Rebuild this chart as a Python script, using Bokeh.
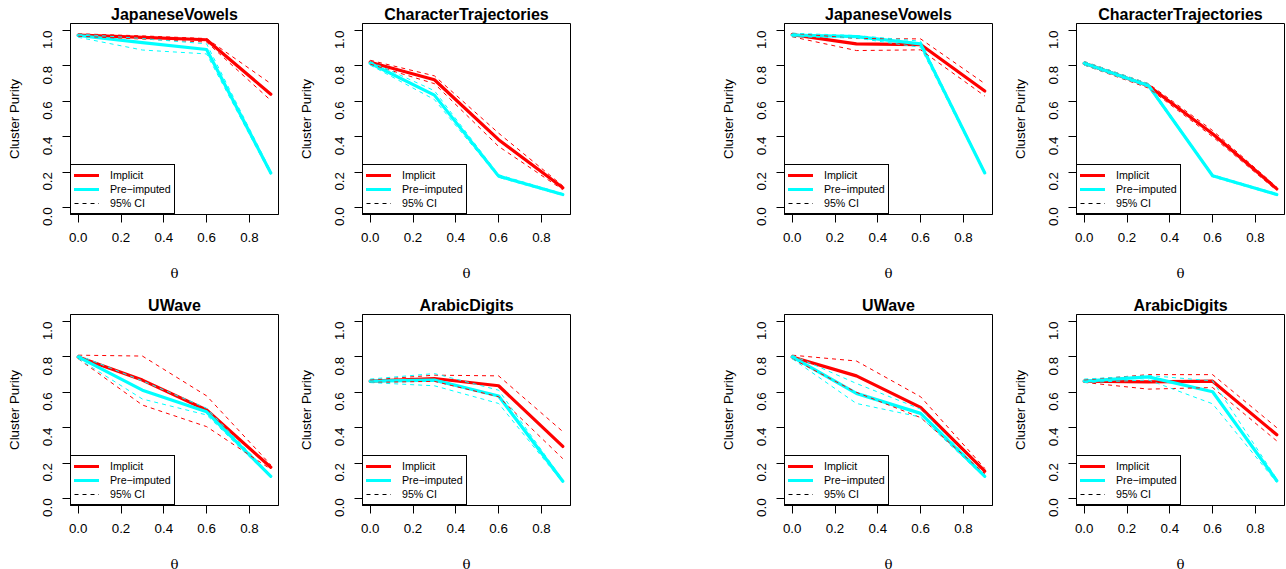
import math
from bokeh.plotting import figure
from bokeh.models import FixedTicker, PrintfTickFormatter, Legend, LegendItem, ColumnDataSource
from bokeh.layouts import row, column
from bokeh.embed import file_html
from bokeh.resources import INLINE

theta = [0.0, 0.3, 0.6, 0.9]
x_ticks = [0.0, 0.2, 0.4, 0.6, 0.8]
y_ticks = [0.0, 0.2, 0.4, 0.6, 0.8, 1.0]
titles = ["JapaneseVowels", "CharacterTrajectories", "UWave", "ArabicDigits"]
legend_labels = ["Implicit", "Pre\u2212imputed", "95% CI"]
y_label = "Cluster Purity"
x_label = "\u03b8"

# ---- left group ----
a_jv_imp = [0.975, 0.962, 0.948, 0.640]
a_jv_imp_lo = [0.968, 0.952, 0.935, 0.605]
a_jv_imp_hi = [0.982, 0.970, 0.955, 0.700]
a_jv_pre = [0.972, 0.932, 0.893, 0.195]
a_jv_pre_lo = [0.962, 0.890, 0.868, 0.185]
a_jv_pre_hi = [0.980, 0.955, 0.925, 0.205]

a_ct_imp = [0.821, 0.722, 0.383, 0.111]
a_ct_imp_lo = [0.810, 0.700, 0.345, 0.100]
a_ct_imp_hi = [0.832, 0.744, 0.420, 0.122]
a_ct_pre = [0.815, 0.635, 0.177, 0.073]
a_ct_pre_lo = [0.805, 0.610, 0.170, 0.068]
a_ct_pre_hi = [0.825, 0.660, 0.185, 0.078]

a_uw_imp = [0.800, 0.669, 0.500, 0.176]
a_uw_imp_lo = [0.790, 0.528, 0.406, 0.165]
a_uw_imp_hi = [0.810, 0.805, 0.580, 0.190]
a_uw_pre = [0.800, 0.612, 0.490, 0.125]
a_uw_pre_lo = [0.790, 0.562, 0.472, 0.118]
a_uw_pre_hi = [0.810, 0.665, 0.510, 0.132]

a_ad_imp = [0.663, 0.678, 0.637, 0.294]
a_ad_imp_lo = [0.656, 0.662, 0.575, 0.225]
a_ad_imp_hi = [0.670, 0.697, 0.693, 0.378]
a_ad_pre = [0.663, 0.669, 0.579, 0.097]
a_ad_pre_lo = [0.655, 0.637, 0.537, 0.090]
a_ad_pre_hi = [0.675, 0.706, 0.612, 0.105]

# ---- right group ----
b_jv_imp = [0.977, 0.925, 0.921, 0.658]
b_jv_imp_lo = [0.965, 0.887, 0.891, 0.630]
b_jv_imp_hi = [0.985, 0.955, 0.953, 0.700]
b_jv_pre = [0.975, 0.966, 0.925, 0.195]
b_jv_pre_lo = [0.965, 0.958, 0.905, 0.188]
b_jv_pre_hi = [0.985, 0.972, 0.940, 0.202]

b_ct_imp = [0.815, 0.688, 0.417, 0.105]
b_ct_imp_lo = [0.805, 0.675, 0.400, 0.095]
b_ct_imp_hi = [0.825, 0.700, 0.435, 0.115]
b_ct_pre = [0.815, 0.690, 0.179, 0.073]
b_ct_pre_lo = [0.805, 0.680, 0.173, 0.068]
b_ct_pre_hi = [0.825, 0.700, 0.185, 0.078]

b_uw_imp = [0.800, 0.693, 0.515, 0.154]
b_uw_imp_lo = [0.790, 0.600, 0.457, 0.140]
b_uw_imp_hi = [0.810, 0.777, 0.575, 0.170]
b_uw_pre = [0.800, 0.594, 0.481, 0.125]
b_uw_pre_lo = [0.790, 0.537, 0.460, 0.118]
b_uw_pre_hi = [0.810, 0.650, 0.505, 0.132]

b_ad_imp = [0.663, 0.659, 0.663, 0.360]
b_ad_imp_lo = [0.656, 0.618, 0.627, 0.325]
b_ad_imp_hi = [0.670, 0.700, 0.700, 0.400]
b_ad_pre = [0.663, 0.687, 0.603, 0.100]
b_ad_pre_lo = [0.655, 0.670, 0.535, 0.090]
b_ad_pre_hi = [0.675, 0.695, 0.665, 0.110]

RED = "#FF0000"
CYAN = "#00FFFF"
FONT = "Liberation Sans"
NAN = float("nan")


def make_panel(title, imp, imp_lo, imp_hi, pre, pre_lo, pre_hi, left, right, top, bottom):
    p = figure(frame_width=208, frame_height=191,
               x_range=(-0.036, 0.936), y_range=(-0.04, 1.04),
               output_backend="svg", toolbar_location=None,
               min_border_left=left, min_border_right=right,
               min_border_top=top, min_border_bottom=bottom,
               background_fill_color="white", border_fill_color="white")
    p.xgrid.visible = False
    p.ygrid.visible = False
    p.outline_line_color = "black"
    p.outline_line_width = 1
    p.outline_line_alpha = 1

    p.title.text = title
    p.title.align = "center"
    p.title.text_font = FONT
    p.title.text_font_size = "16px"
    p.title.text_font_style = "bold"
    p.title.text_color = "black"
    p.title.standoff = 1

    for ax in (p.xaxis[0], p.yaxis[0]):
        ax.axis_line_color = "black"
        ax.major_tick_line_color = "black"
        ax.major_tick_out = 8
        ax.major_tick_in = 0
        ax.minor_tick_line_color = None
        ax.major_label_text_font = FONT
        ax.major_label_text_font_size = "13.33px"
        ax.major_label_text_color = "black"
        ax.axis_label_text_font = FONT
        ax.axis_label_text_font_size = "13.33px"
        ax.axis_label_text_font_style = "normal"
        ax.axis_label_text_color = "black"
        ax.formatter = PrintfTickFormatter(format="%.1f")

    p.xaxis.ticker = FixedTicker(ticks=x_ticks)
    p.yaxis.ticker = FixedTicker(ticks=y_ticks)
    p.xaxis.axis_label = x_label
    p.yaxis.axis_label = y_label
    p.xaxis.major_label_standoff = 10
    p.xaxis.axis_label_standoff = 21
    p.xaxis.axis_label_text_font = "DejaVu Serif"
    p.yaxis.major_label_orientation = math.pi / 2
    p.yaxis.major_label_standoff = 15
    p.yaxis.axis_label_standoff = 14

    r_imp = p.line(theta, imp, line_color=RED, line_width=3.2, line_cap="round", line_join="round")
    r_pre = p.line(theta, pre, line_color=CYAN, line_width=3.2, line_cap="round", line_join="round")
    for vals, col in ((imp_lo, RED), (imp_hi, RED), (pre_lo, CYAN), (pre_hi, CYAN)):
        p.line(theta, vals, line_color=col, line_width=1, line_dash="4 4")
    r_ci = p.line(x="x", y="y", source=ColumnDataSource(data=dict(x=[NAN, NAN], y=[NAN, NAN])),
                  line_color="black", line_width=1, line_dash="4 4")

    legend = Legend(items=[LegendItem(label=legend_labels[0], renderers=[r_imp]),
                           LegendItem(label=legend_labels[1], renderers=[r_pre]),
                           LegendItem(label=legend_labels[2], renderers=[r_ci])],
                    location="bottom_left", margin=0, padding=3, spacing=0,
                    label_height=14, glyph_height=14, glyph_width=25, label_standoff=11,
                    label_text_font=FONT, label_text_font_size="10.67px",
                    label_text_color="black",
                    border_line_color="black", border_line_width=1, border_line_alpha=1,
                    background_fill_color="white", background_fill_alpha=1)
    p.add_layout(legend, "center")
    return p


top_b, bot_b = 77, 64
p1 = make_panel(titles[0], a_jv_imp, a_jv_imp_lo, a_jv_imp_hi, a_jv_pre, a_jv_pre_lo, a_jv_pre_hi, 70, 14, 23, top_b)
p2 = make_panel(titles[1], a_ct_imp, a_ct_imp_lo, a_ct_imp_hi, a_ct_pre, a_ct_pre_lo, a_ct_pre_hi, 70, 144, 23, top_b)
p3 = make_panel(titles[0], b_jv_imp, b_jv_imp_lo, b_jv_imp_hi, b_jv_pre, b_jv_pre_lo, b_jv_pre_hi, 70, 14, 23, top_b)
p4 = make_panel(titles[1], b_ct_imp, b_ct_imp_lo, b_ct_imp_hi, b_ct_pre, b_ct_pre_lo, b_ct_pre_hi, 70, 2, 23, top_b)
p5 = make_panel(titles[2], a_uw_imp, a_uw_imp_lo, a_uw_imp_hi, a_uw_pre, a_uw_pre_lo, a_uw_pre_hi, 70, 14, 23, bot_b)
p6 = make_panel(titles[3], a_ad_imp, a_ad_imp_lo, a_ad_imp_hi, a_ad_pre, a_ad_pre_lo, a_ad_pre_hi, 70, 144, 23, bot_b)
p7 = make_panel(titles[2], b_uw_imp, b_uw_imp_lo, b_uw_imp_hi, b_uw_pre, b_uw_pre_lo, b_uw_pre_hi, 70, 14, 23, bot_b)
p8 = make_panel(titles[3], b_ad_imp, b_ad_imp_lo, b_ad_imp_hi, b_ad_pre, b_ad_pre_lo, b_ad_pre_hi, 70, 2, 23, bot_b)

layout = column(row(p1, p2, p3, p4, spacing=0), row(p5, p6, p7, p8, spacing=0), spacing=0)

open("out.html", "w").write(file_html(layout, INLINE))
